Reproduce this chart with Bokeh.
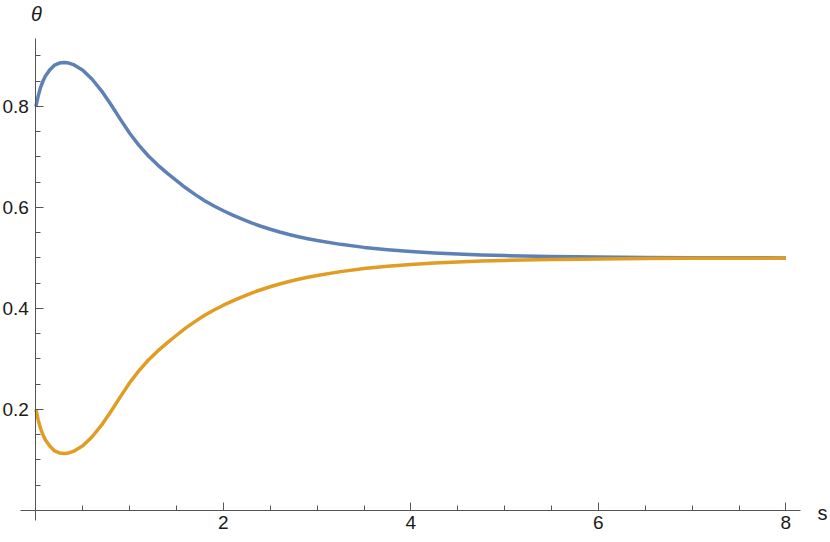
from bokeh.plotting import figure
from bokeh.models import LinearAxis, FixedTicker, Range1d, Label, CustomJSTickFormatter
from bokeh.embed import file_html
from bokeh.resources import INLINE

# data
s_vals = [0, 0.025, 0.05, 0.075, 0.1, 0.15, 0.2, 0.25, 0.3, 0.35, 0.4, 0.5, 0.6, 0.7,
          0.8, 0.9, 1.0, 1.1, 1.2, 1.3, 1.4, 1.5, 1.6, 1.7, 1.8, 1.9, 2.0, 2.1, 2.2,
          2.3, 2.4, 2.5, 2.6, 2.7, 2.8, 2.9, 3.0, 3.25, 3.5, 3.75, 4.0, 4.25, 4.5,
          4.75, 5.0, 5.5, 6.0, 6.5, 7.0, 8.0]
theta1 = [0.800, 0.821, 0.838, 0.850, 0.860, 0.873, 0.882, 0.886, 0.887, 0.886,
          0.883, 0.872, 0.854, 0.831, 0.804, 0.775, 0.747, 0.723, 0.702, 0.684,
          0.668, 0.653, 0.6385, 0.6255, 0.6135, 0.603, 0.5935, 0.5848, 0.5768, 0.5695,
          0.5629, 0.5569, 0.5515, 0.5466, 0.5422, 0.5382, 0.5346, 0.527, 0.521, 0.5164,
          0.5128, 0.510, 0.5078, 0.5061, 0.5048, 0.5029, 0.5018, 0.5011, 0.5007, 0.5002]
theta2 = [0.200, 0.179, 0.162, 0.150, 0.140, 0.127, 0.118, 0.114, 0.113, 0.114,
          0.117, 0.128, 0.146, 0.169, 0.196, 0.225, 0.253, 0.277, 0.298, 0.316,
          0.332, 0.347, 0.3615, 0.3745, 0.3865, 0.397, 0.4065, 0.4152, 0.4232, 0.4305,
          0.4371, 0.4431, 0.4485, 0.4534, 0.4578, 0.4618, 0.4654, 0.473, 0.479, 0.4836,
          0.4872, 0.490, 0.4922, 0.4939, 0.4952, 0.4971, 0.4982, 0.4989, 0.4993, 0.4998]
x_major = [0, 2, 4, 6, 8]
x_minor = [0.5, 1, 1.5, 2.5, 3, 3.5, 4.5, 5, 5.5, 6.5, 7, 7.5]
y_major = [0.2, 0.4, 0.6, 0.8]
y_minor = [0.05, 0.1, 0.15, 0.25, 0.3, 0.35, 0.45, 0.5, 0.55, 0.65, 0.7, 0.75, 0.85, 0.9]

W, H = 830, 542
p = figure(width=W, height=H, output_backend="svg", toolbar_location=None,
           x_axis_location=None, y_axis_location=None,
           x_range=Range1d(-0.3776, 8.4757), y_range=Range1d(-0.0634, 1.0099),
           min_border=0, min_border_left=0, min_border_right=0,
           min_border_top=0, min_border_bottom=0)
p.outline_line_color = None
p.grid.visible = False
p.background_fill_color = "white"

axis_color = "#555555"
label_color = "#1a1a1a"
font = "Liberation Sans"

xaxis = LinearAxis(fixed_location=0, bounds=(-0.164, 8.16),
                   ticker=FixedTicker(ticks=x_major, minor_ticks=x_minor),
                   formatter=CustomJSTickFormatter(code="return tick == 0 ? '' : tick.toString();"))
yaxis = LinearAxis(fixed_location=0, bounds=(-0.02, 0.935),
                   ticker=FixedTicker(ticks=y_major, minor_ticks=y_minor))
for ax in (xaxis, yaxis):
    ax.axis_line_color = axis_color
    ax.axis_line_width = 1
    ax.major_tick_line_color = axis_color
    ax.minor_tick_line_color = axis_color
    ax.major_tick_in = 8
    ax.major_tick_out = 0
    ax.minor_tick_in = 5
    ax.minor_tick_out = 0
    ax.major_label_text_font = font
    ax.major_label_text_font_size = "19px"
    ax.major_label_text_color = label_color
xaxis.major_label_standoff = 6
yaxis.major_label_standoff = 7
p.add_layout(xaxis, "below")
p.add_layout(yaxis, "left")

p.line(s_vals, theta1, line_color="#5E81B5", line_width=3.5, line_join="round")
p.line(s_vals, theta2, line_color="#E19C24", line_width=3.5, line_join="round")

p.add_layout(Label(x=0.006, y=0.984, text="θ", text_font=font, text_font_size="20px",
                   text_font_style="italic", text_color=label_color,
                   text_align="center", text_baseline="middle"))
p.add_layout(Label(x=8.39, y=-0.004, text="s", text_font=font, text_font_size="20px",
                   text_color=label_color, text_align="center", text_baseline="middle"))

open("out.html", "w").write(file_html(p, INLINE))
